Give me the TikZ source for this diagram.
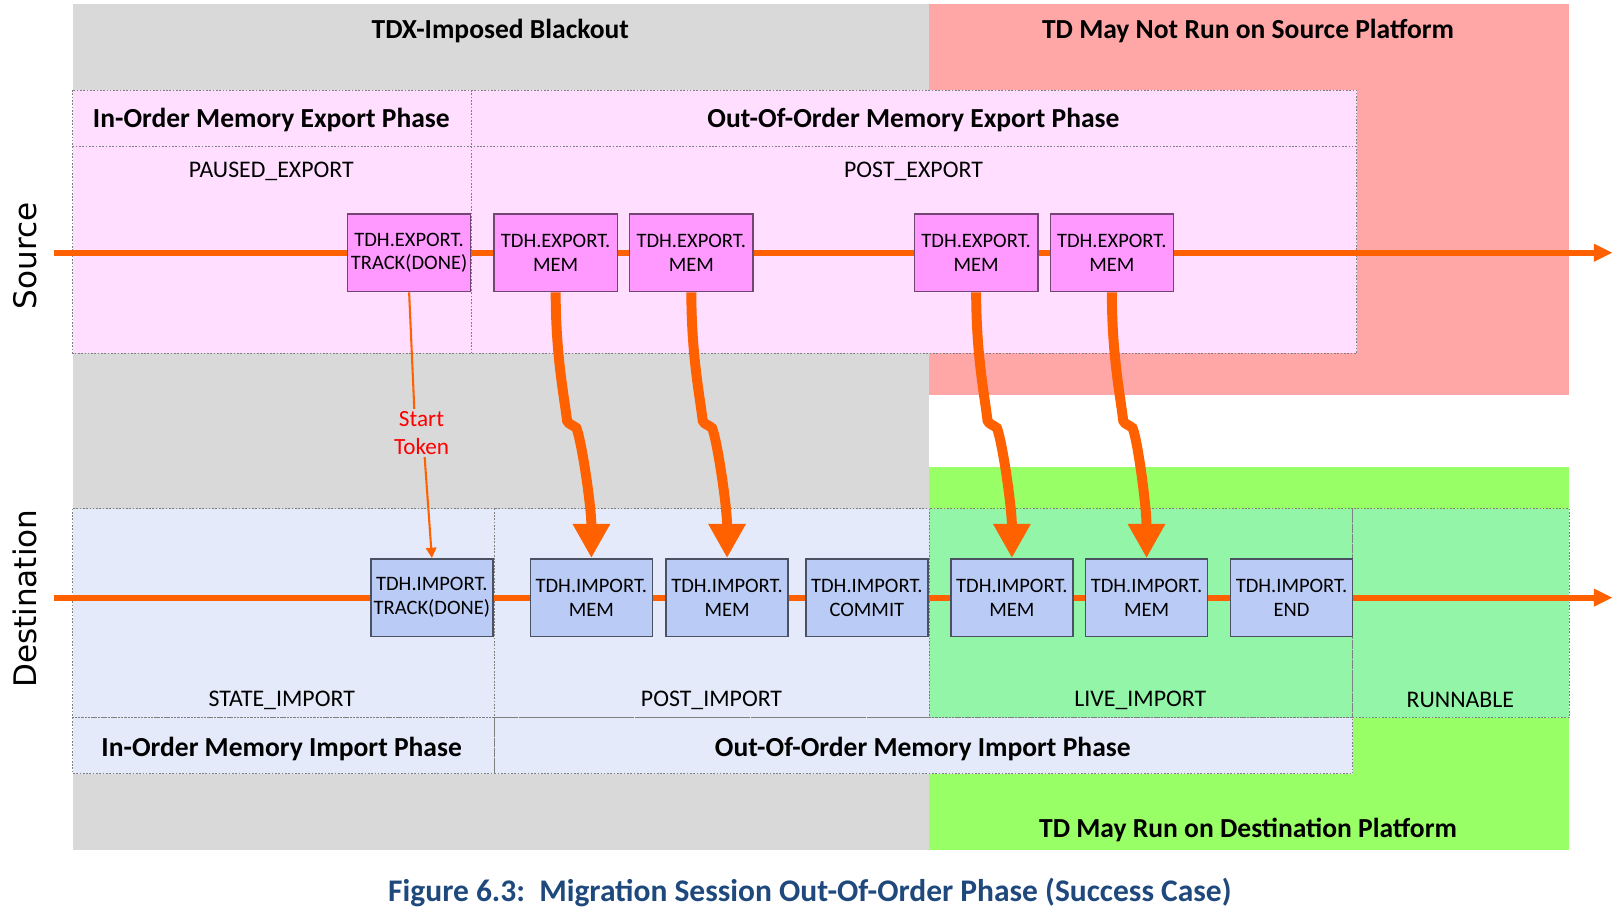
\documentclass[tikz,border=0pt]{standalone}
\usepackage{fontspec}
\setmainfont{Carlito}
\newfontfamily\dejavu{DejaVu Sans}
\usetikzlibrary{arrows.meta}
\definecolor{bgray}{HTML}{D9D9D9}
\definecolor{salmon}{HTML}{FFA7A6}
\definecolor{lime}{HTML}{99FF66}
\definecolor{lpink}{HTML}{FFDEFF}
\definecolor{epink}{HTML}{FF99FF}
\definecolor{lblue}{HTML}{E4EAFA}
\definecolor{mint}{HTML}{92F5A8}
\definecolor{iblue}{HTML}{BACBF5}
\definecolor{orng}{HTML}{FF6000}
\definecolor{capblue}{HTML}{1F497D}
\definecolor{dotgray}{HTML}{7F7F7F}
\tikzset{
  region/.style={draw=dotgray, line width=0.5pt, dash pattern=on 0.8pt off 0.8pt},
  hdr/.style={font=\bfseries\fontsize{13.3}{15}\selectfont, inner sep=0pt, anchor=center},
  statelbl/.style={font=\fontsize{11.5}{13}\selectfont, inner sep=0pt},
  expbox/.style={draw=black!55!epink, line width=0.7pt, fill=epink, minimum width=59.5pt, minimum height=37.5pt, inner sep=0pt, align=center, font=\fontsize{9.9}{11.5}\selectfont},
  impbox/.style={draw=black!60!iblue, line width=0.7pt, fill=iblue, minimum width=59pt, minimum height=37.5pt, inner sep=0pt, align=center, font=\fontsize{9.9}{11.5}\selectfont},
  timeline/.style={draw=orng, line width=3pt, -{Triangle[width=8pt,length=9pt]}},
  bigarrow/.style={draw=orng, line width=4.8pt, -{Triangle[width=17pt,length=16.5pt]}},
  thinarrow/.style={draw=orng, line width=1pt},
  sidelbl/.style={font=\dejavu\fontsize{15}{17}\selectfont, rotate=90, inner sep=0pt}
}
\begin{document}
\begin{tikzpicture}[x=0.5pt, y=-0.5pt]
\useasboundingbox (0,0) rectangle (1568,879);
% background regions
\fill[bgray] (70,4) rectangle (897,821);
\fill[salmon] (897,4) rectangle (1515,381);
\fill[lime] (897,451) rectangle (1515,821);
\node[hdr] (tblack) at (483,30) {TDX-Imposed Blackout};
\node[hdr] (tnotrun) at (1205,30) {TD May Not Run on Source Platform};
\node[hdr] (tmayrun) at (1205,801) {TD May Run on Destination Platform};
% source box
\fill[lpink] (70,87) rectangle (1310,341);
\draw[region] (70,87) rectangle (1310,341);
\draw[region] (70,141) -- (1310,141);
\draw[region] (455,87) -- (455,341);
\node[hdr] (inexp) at (262,116) {In-Order Memory Export Phase};
\node[hdr] (ooexp) at (882,116) {Out-Of-Order Memory Export Phase};
\node[statelbl] (paused) at (262,165) {PAUSED\_EXPORT};
\node[statelbl] (postexp) at (882,165) {POST\_EXPORT};
% destination box
\fill[lblue] (70,491) rectangle (897,693);
\fill[mint] (897,491) rectangle (1515,693);
\fill[lblue] (70,693) rectangle (1306,747);
\draw[region] (70,491) rectangle (477,693);
\draw[region] (477,491) rectangle (897,693);
\draw[region] (897,491) rectangle (1306,693);
\draw[region] (1306,491) rectangle (1515,693);
\draw[region] (70,693) rectangle (477,747);
\draw[region] (477,693) rectangle (1306,747);
\node[statelbl] (stateimp) at (272,676) {STATE\_IMPORT};
\node[statelbl] (postimp) at (687,676) {POST\_IMPORT};
\node[statelbl] (liveimp) at (1101,676) {LIVE\_IMPORT};
\node[statelbl] (runnable) at (1410,676) {RUNNABLE};
\node[hdr] (inimp) at (272,723) {In-Order Memory Import Phase};
\node[hdr] (ooimp) at (891,723) {Out-Of-Order Memory Import Phase};
% side labels
\node[sidelbl] (src) at (24,247) {Source};
\node[sidelbl] (dst) at (24,578) {Destination};
% timelines
\coordinate (srcL) at (52,244);
\coordinate (srcR) at (1557,244);
\coordinate (dstL) at (52,577);
\coordinate (dstR) at (1557,577);
\draw[timeline] (srcL) -- (srcR);
\draw[timeline] (dstL) -- (dstR);
% export nodes
\node[expbox] (etrack) at (395,244) {TDH.EXPORT.\\TRACK(DONE)};
\node[expbox] (e1) at (536.5,244) {TDH.EXPORT.\\MEM};
\node[expbox] (e2) at (667.5,244) {TDH.EXPORT.\\MEM};
\node[expbox] (e3) at (942.5,244) {TDH.EXPORT.\\MEM};
\node[expbox] (e4) at (1073.5,244) {TDH.EXPORT.\\MEM};
% import nodes
\node[impbox] (itrack) at (417,577) {TDH.IMPORT.\\TRACK(DONE)};
\node[impbox] (i1) at (571,577) {TDH.IMPORT.\\MEM};
\node[impbox] (i2) at (702,577) {TDH.IMPORT.\\MEM};
\node[impbox] (icommit) at (837,577) {TDH.IMPORT.\\COMMIT};
\node[impbox] (i3) at (977,577) {TDH.IMPORT.\\MEM};
\node[impbox] (i4) at (1107,577) {TDH.IMPORT.\\MEM};
\node[impbox] (iend) at (1247,577) {TDH.IMPORT.\\END};
% start token
\node[font=\fontsize{11.2}{13.5}\selectfont, text=red, align=center, inner sep=1pt] (tok) at (407,418) {Start\\Token};
\draw[thinarrow] (etrack.south) -- ([xshift=-3.5pt]tok.north);
\draw[thinarrow, -{Triangle[width=5pt,length=5pt]}] ([xshift=1.5pt]tok.south) -- (itrack.north);
% big arrows
\foreach \a/\b in {e1/i1, e2/i2, e3/i3, e4/i4}{
  \draw[bigarrow] (\a.south) .. controls +(0,60) and +(-3,-25) .. ++(11,124)
     .. controls +(2,4) and +(-5,-4) .. ++(9,7)
     .. controls +(5,12) and +(0,-50) .. (\b.north);
}
% caption
\node[font=\bfseries\fontsize{15.2}{17}\selectfont, text=capblue, inner sep=0pt] (cap) at (782,862) {Figure 6.3:\ \ Migration Session Out-Of-Order Phase (Success Case)};
\end{tikzpicture}
\end{document}
